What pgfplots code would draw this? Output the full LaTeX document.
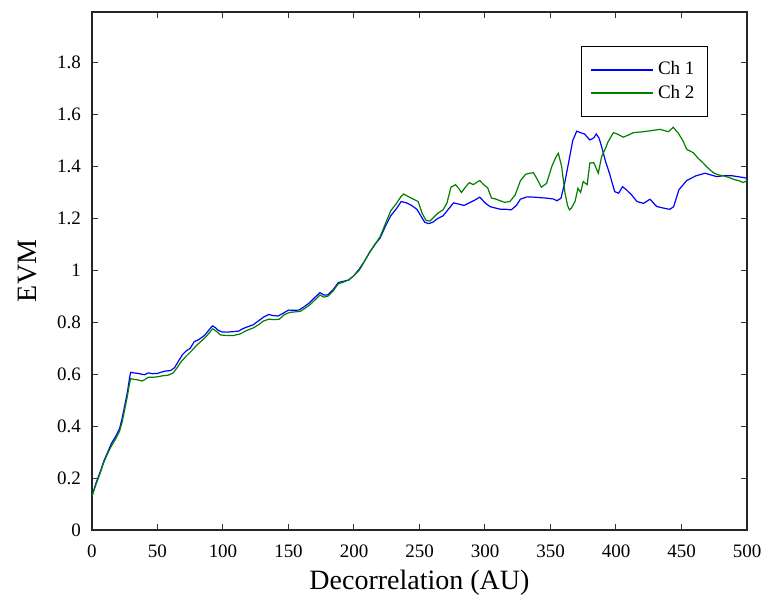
\documentclass[border=0pt]{standalone}
\usepackage{pgfplots}
\pgfplotsset{compat=1.18}
\usepackage{fontspec}
\setmainfont{Liberation Serif}
\definecolor{chblue}{RGB}{0,0,255}
\definecolor{chgreen}{RGB}{0,128,0}
\begin{document}
\begin{tikzpicture}
\begin{axis}[
  scale only axis,
  width=327.5pt, height=259pt,
  xmin=0, xmax=500, ymin=0, ymax=1.995,
  xtick={0,50,...,500},
  ytick={0,0.2,0.4,0.6,0.8,1,1.2,1.4,1.6,1.8},
  yticklabels={0,0.2,0.4,0.6,0.8,1,1.2,1.4,1.6,1.8},
  tick align=inside,
  tick pos=both,
  major tick length=3pt,
  minor tick num=0,
  axis line style={line width=0.9pt, black!85},
  tick style={line width=0.5pt, black!80},
  /pgf/number format/assume math mode=true,
  ticklabel style={font=\fontsize{9.5}{11}\selectfont},
  xticklabel style={yshift=-4pt, inner xsep=0pt},
  yticklabel style={xshift=-2pt},
  xlabel={Decorrelation (AU)},
  ylabel={EVM},
  label style={font=\fontsize{14}{16}\selectfont},
  xlabel style={at={(axis description cs:0.5,-0.102)}, anchor=center},
  ylabel style={at={(axis description cs:-0.099,0.5)}, anchor=center},
  legend style={at={(rel axis cs:0.9405,0.934)}, anchor=north east,
    draw=black, line width=0.6pt, font=\fontsize{9.5}{11}\selectfont,
    inner xsep=4.5pt, inner ysep=5.5pt, row sep=-0.5pt},
  legend cell align=left,
  legend image code/.code={\draw[#1, line width=0.9pt] (0cm,0cm) -- (31pt,0cm);},
]
\addplot[chblue, line width=0.6pt] coordinates {
(0,0.13)(3,0.18)(6,0.22)(9,0.265)(12,0.30)(15,0.335)(18,0.36)(21,0.39)(23,0.43)(25,0.48)(27,0.53)(28.5,0.58)(29.5,0.607)
(32,0.605)(35,0.603)(38,0.600)(40,0.598)(43,0.605)(46,0.602)(50,0.603)(53,0.608)(56,0.612)(60,0.614)(63,0.625)(66,0.65)(69,0.675)(72,0.69)(75,0.70)(78,0.725)(82,0.735)(86,0.75)(90,0.775)(92,0.786)(94,0.78)(96,0.77)(99,0.763)
(103,0.762)(108,0.764)(112,0.766)(115,0.775)(119,0.783)(123,0.79)(127,0.805)(131,0.82)(135,0.83)(138,0.826)(142,0.824)(146,0.835)(150,0.847)(154,0.846)(158,0.847)(162,0.86)(166,0.875)(170,0.895)(174,0.914)(177,0.905)(180,0.905)(184,0.925)(188,0.953)(192,0.958)(196,0.963)
(200,0.98)(204,1.005)(208,1.035)(212,1.07)(216,1.10)(220,1.125)(224,1.17)(228,1.21)(232,1.235)(236,1.265)(240,1.26)(244,1.25)(248,1.235)(251,1.21)(254,1.185)(257,1.18)(260,1.185)(264,1.2)(268,1.21)(272,1.235)(276,1.26)(280,1.255)(284,1.25)(288,1.26)(292,1.27)(296,1.282)
(300,1.26)(304,1.245)(308,1.24)(312,1.235)(316,1.235)(320,1.233)(324,1.25)(327,1.274)(332,1.283)(337,1.282)(342,1.28)(347,1.278)(352,1.275)(355,1.268)(358,1.278)(361,1.34)(364,1.42)(367,1.50)(370,1.536)(373,1.53)(376,1.525)(380,1.502)(383,1.51)(385,1.525)(387,1.51)(389,1.477)(392,1.42)(395,1.374)(399,1.303)
(402,1.297)(405,1.322)(408,1.31)(412,1.29)(416,1.265)(421,1.258)(426,1.274)(431,1.246)(436,1.24)(441,1.235)(444,1.245)(448,1.31)(454,1.346)(461,1.364)(468,1.374)(472,1.368)(477,1.361)(483,1.365)(489,1.364)(494,1.36)(500,1.355)
};
\addlegendentry{Ch 1}
\addplot[chgreen, line width=0.6pt] coordinates {
(0,0.13)(3,0.175)(6,0.215)(9,0.26)(12,0.295)(15,0.325)(18,0.35)(21,0.38)(23,0.415)(25,0.465)(27,0.515)(28.5,0.56)(29.5,0.583)
(32,0.58)(35,0.578)(38,0.574)(40,0.578)(43,0.588)(46,0.588)(50,0.59)(54,0.594)(58,0.596)(62,0.605)(65,0.625)(68,0.648)(72,0.67)(76,0.69)(80,0.712)(84,0.73)(88,0.75)(92,0.775)(95,0.765)(98,0.751)
(103,0.749)(108,0.749)(113,0.755)(118,0.768)(123,0.778)(127,0.79)(131,0.805)(135,0.812)(139,0.81)(143,0.812)(147,0.83)(151,0.838)(155,0.84)(159,0.842)(163,0.855)(167,0.87)(171,0.89)(174,0.905)(177,0.897)(180,0.9)(184,0.92)(188,0.948)(192,0.955)(196,0.963)
(200,0.98)(204,1.0)(208,1.035)(212,1.07)(216,1.10)(220,1.13)(224,1.18)(228,1.229)(232,1.255)(236,1.285)(238,1.294)(241,1.285)(245,1.275)(249,1.265)(252,1.22)(255,1.192)(258,1.19)(261,1.205)(264,1.22)(268,1.233)(271,1.26)(274,1.32)(277.5,1.33)(280,1.315)(282,1.30)(285,1.32)(288,1.338)(291,1.33)(294,1.34)(296,1.346)(299,1.33)
(302,1.318)(305,1.278)(308,1.275)(311,1.269)(315,1.262)(319,1.265)(323,1.29)(327,1.345)(331,1.37)(334,1.374)(337,1.376)(340,1.35)(343,1.32)(347,1.335)(351,1.40)(354,1.435)(356,1.451)(358.5,1.40)(361,1.30)(363,1.25)(364.5,1.233)(366,1.24)(368.7,1.265)(371,1.316)(373,1.30)(375,1.342)(378,1.33)(380,1.413)(383,1.415)(386.5,1.374)(389,1.438)(392,1.47)(394,1.496)(398,1.53)
(401,1.525)(405.6,1.513)(409,1.52)(413,1.53)(421,1.534)(427,1.538)(433.6,1.543)(440,1.534)(443.7,1.551)(447.6,1.528)(451,1.50)(454,1.466)(459,1.453)(463,1.43)(466.6,1.413)(470,1.395)(474.3,1.376)(478,1.368)(482,1.364)(486,1.358)(490,1.35)(494,1.345)(497,1.338)(500,1.345)
};
\addlegendentry{Ch 2}
\end{axis}
\path (current axis.south west) ++(-46pt,-37pt) (current axis.north east) ++(7.5pt,6pt);
\end{tikzpicture}
\end{document}
